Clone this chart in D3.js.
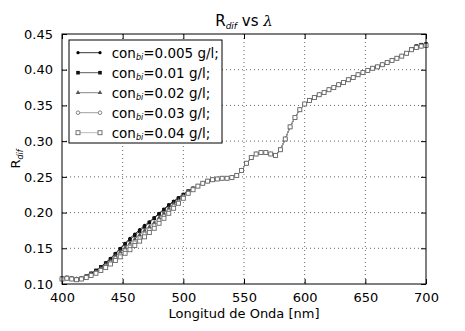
<!DOCTYPE html>
<html>
<head>
<meta charset="utf-8">
<script src="https://cdn.jsdelivr.net/npm/d3@7/dist/d3.min.js"></script>
<style>
  body { margin: 0; background: #fff; }
  svg { font-family: 'DejaVu Sans', sans-serif; }
</style>
</head>
<body>
<svg id="chart" width="465" height="331"></svg>
<script>
// wavelengths, every 4 nm
const lambdas = d3.range(400, 701, 4);

const xTicks = [400, 450, 500, 550, 600, 650, 700];
const yTicks = [0.10, 0.15, 0.20, 0.25, 0.30, 0.35, 0.40, 0.45];

const labels = ['0.005', '0.01', '0.02', '0.03', '0.04'];

// values (400..508 differ, then nearly the same)
const con005 = [0.108, 0.109, 0.108, 0.107, 0.108, 0.111, 0.115, 0.119, 0.124, 0.130,
  0.136, 0.143, 0.150, 0.157, 0.164, 0.170, 0.176, 0.182, 0.187, 0.193,
  0.199, 0.205, 0.211, 0.216, 0.221, 0.226, 0.230, 0.234, 0.237, 0.241,
  0.244, 0.246, 0.247, 0.248, 0.248, 0.249, 0.252, 0.259, 0.269, 0.277,
  0.282, 0.284, 0.284, 0.282, 0.280, 0.288, 0.303, 0.320, 0.333, 0.344,
  0.352, 0.357, 0.361, 0.365, 0.368, 0.372, 0.375, 0.379, 0.382, 0.386,
  0.389, 0.393, 0.396, 0.399, 0.402, 0.404, 0.407, 0.410, 0.413, 0.416,
  0.419, 0.423, 0.429, 0.433, 0.435, 0.436];
const con01 = [0.108, 0.109, 0.108, 0.107, 0.108, 0.111, 0.115, 0.119, 0.124, 0.129,
  0.135, 0.142, 0.149, 0.156, 0.162, 0.168, 0.174, 0.180, 0.186, 0.192,
  0.198, 0.204, 0.210, 0.215, 0.220, 0.225, 0.230, 0.234, 0.237, 0.241,
  0.244, 0.246, 0.247, 0.248, 0.248, 0.249, 0.252, 0.259, 0.269, 0.277,
  0.282, 0.284, 0.284, 0.282, 0.280, 0.288, 0.303, 0.320, 0.333, 0.344,
  0.352, 0.357, 0.361, 0.365, 0.368, 0.372, 0.375, 0.379, 0.382, 0.386,
  0.389, 0.393, 0.396, 0.399, 0.402, 0.404, 0.407, 0.410, 0.413, 0.416,
  0.419, 0.423, 0.429, 0.433, 0.435, 0.436];
const con02 = [0.108, 0.109, 0.108, 0.107, 0.108, 0.110, 0.114, 0.117, 0.122, 0.127,
  0.132, 0.139, 0.145, 0.151, 0.157, 0.163, 0.169, 0.175, 0.180, 0.186,
  0.193, 0.199, 0.206, 0.212, 0.217, 0.223, 0.229, 0.233, 0.237, 0.241,
  0.244, 0.246, 0.247, 0.248, 0.248, 0.249, 0.252, 0.259, 0.269, 0.277,
  0.282, 0.284, 0.284, 0.282, 0.280, 0.288, 0.303, 0.320, 0.333, 0.344,
  0.352, 0.357, 0.361, 0.365, 0.368, 0.372, 0.375, 0.379, 0.382, 0.386,
  0.389, 0.393, 0.396, 0.399, 0.402, 0.404, 0.407, 0.410, 0.413, 0.416,
  0.419, 0.423, 0.428, 0.432, 0.434, 0.435];
const con03 = [0.107, 0.108, 0.107, 0.106, 0.107, 0.110, 0.113, 0.116, 0.120, 0.125,
  0.130, 0.136, 0.141, 0.147, 0.152, 0.158, 0.164, 0.170, 0.176, 0.182,
  0.189, 0.195, 0.202, 0.209, 0.215, 0.222, 0.228, 0.233, 0.237, 0.241,
  0.244, 0.246, 0.247, 0.248, 0.248, 0.249, 0.252, 0.259, 0.269, 0.277,
  0.282, 0.284, 0.284, 0.282, 0.280, 0.288, 0.303, 0.320, 0.333, 0.344,
  0.352, 0.357, 0.361, 0.365, 0.368, 0.372, 0.375, 0.379, 0.382, 0.386,
  0.389, 0.393, 0.396, 0.399, 0.402, 0.404, 0.407, 0.410, 0.413, 0.416,
  0.419, 0.423, 0.428, 0.431, 0.433, 0.434];
const con04 = [0.107, 0.108, 0.107, 0.106, 0.107, 0.109, 0.112, 0.115, 0.119, 0.123,
  0.128, 0.133, 0.138, 0.143, 0.148, 0.154, 0.160, 0.166, 0.172, 0.178,
  0.185, 0.192, 0.199, 0.206, 0.213, 0.220, 0.227, 0.232, 0.237, 0.241,
  0.244, 0.246, 0.247, 0.248, 0.248, 0.249, 0.252, 0.259, 0.269, 0.277,
  0.282, 0.284, 0.284, 0.282, 0.280, 0.288, 0.303, 0.320, 0.333, 0.344,
  0.352, 0.357, 0.361, 0.365, 0.368, 0.372, 0.375, 0.379, 0.382, 0.386,
  0.389, 0.393, 0.396, 0.399, 0.402, 0.404, 0.407, 0.410, 0.413, 0.416,
  0.419, 0.423, 0.428, 0.431, 0.433, 0.434];

const series = [con005, con01, con02, con03, con04];
const lineColors = ['#000', '#333', '#666', '#888', '#aaa'];
const markerTypes = ['dot', 'square', 'triangle', 'circle', 'openSquare'];

const margin = { left: 62, top: 34, right: 39, bottom: 47 };
const width = 465 - margin.left - margin.right;
const height = 331 - margin.top - margin.bottom;

const svg = d3.select('#chart');
const g = svg.append('g').attr('transform', 'translate(' + margin.left + ',' + margin.top + ')');

const x = d3.scaleLinear().domain([400, 700]).range([0, width]);
const y = d3.scaleLinear().domain([0.10, 0.45]).range([height, 0]);

// grid
g.append('g')
    .selectAll('line')
    .data(xTicks.slice(1, -1))
    .enter()
    .append('line')
    .attr('x1', d => x(d)).attr('x2', d => x(d))
    .attr('y1', 0).attr('y2', height)
    .attr('stroke', '#000').attr('stroke-width', 0.6)
    .attr('stroke-dasharray', '1,3');

g.append('g')
    .selectAll('line')
    .data(yTicks.slice(1, -1))
    .enter()
    .append('line')
    .attr('y1', d => y(d)).attr('y2', d => y(d))
    .attr('x1', 0).attr('x2', width)
    .attr('stroke', '#000').attr('stroke-width', 0.6)
    .attr('stroke-dasharray', '1,3');

// axes, ticks inward
const fmtY = d3.format('.2f');
g.append('g')
    .attr('transform', 'translate(0,' + height + ')')
    .call(d3.axisBottom(x).tickValues(xTicks).tickSize(-5).tickPadding(9))
    .call(a => a.select('.domain').remove())
    .style('font-size', '13px');
g.append('g')
    .call(d3.axisTop(x).tickValues(xTicks).tickSize(-5).tickFormat(''))
    .call(a => a.select('.domain').remove());
g.append('g')
    .call(d3.axisLeft(y).tickValues(yTicks).tickSize(-5).tickPadding(9).tickFormat(fmtY))
    .call(a => a.select('.domain').remove())
    .style('font-size', '13px');
g.append('g')
    .attr('transform', 'translate(' + width + ',0)')
    .call(d3.axisRight(y).tickValues(yTicks).tickSize(-5).tickFormat(''))
    .call(a => a.select('.domain').remove());
g.selectAll('.tick text').attr('fill', '#000').style('font-family', 'DejaVu Sans');

// draw a marker
function marker(sel, type, cx, cy) {
    if (type === 'dot') {
        sel.append('circle').attr('cx', cx).attr('cy', cy).attr('r', 1.6).attr('fill', '#000');
    } else if (type === 'square') {
        sel.append('rect').attr('x', cx - 1.8).attr('y', cy - 1.8).attr('width', 3.6).attr('height', 3.6).attr('fill', '#111');
    } else if (type === 'triangle') {
        sel.append('path').attr('d', d3.symbol(d3.symbolTriangle, 9)()).attr('transform', 'translate(' + cx + ',' + cy + ')').attr('fill', '#555');
    } else if (type === 'circle') {
        sel.append('circle').attr('cx', cx).attr('cy', cy).attr('r', 1.8).attr('fill', '#fff').attr('stroke', '#777').attr('stroke-width', 0.9);
    } else {
        sel.append('rect').attr('x', cx - 2).attr('y', cy - 2).attr('width', 4).attr('height', 4).attr('fill', '#fff').attr('stroke', '#666').attr('stroke-width', 0.9);
    }
}

const lineGen = d3.line()
    .x((d, i) => x(lambdas[i]))
    .y(d => y(d));

const plot = g.append('g');
series.forEach((s, k) => {
    plot.append('path')
        .attr('d', lineGen(s))
        .attr('fill', 'none')
        .attr('stroke', lineColors[k])
        .attr('stroke-width', 0.8);
    const mg = plot.append('g');
    s.forEach((v, i) => marker(mg, markerTypes[k], x(lambdas[i]), y(v)));
});

// frame
g.append('rect')
    .attr('width', width).attr('height', height)
    .attr('fill', 'none').attr('stroke', '#000').attr('stroke-width', 1);

// legend
const lg = g.append('g').attr('transform', 'translate(7,6)');
lg.append('rect')
    .attr('width', 153).attr('height', 103)
    .attr('fill', '#fff').attr('stroke', '#000').attr('stroke-width', 1);
labels.forEach((lab, k) => {
    const ly = 12.7 + k * 20;
    lg.append('line')
        .attr('x1', 9).attr('x2', 31).attr('y1', ly).attr('y2', ly)
        .attr('stroke', lineColors[k]).attr('stroke-width', 0.8);
    marker(lg, markerTypes[k], 9, ly);
    marker(lg, markerTypes[k], 31, ly);
    const t = lg.append('text')
        .attr('x', 42.7).attr('y', ly + 5)
        .style('font-size', '13.5px')
        .attr('fill', '#000');
    t.append('tspan').text('con');
    t.append('tspan').text('bi').style('font-size', '8px').style('font-style', 'italic').attr('dy', 2.5);
    t.append('tspan').text('=' + lab + ' g/l;').attr('dy', -2.5);
});

// title
const title = svg.append('text')
    .attr('x', margin.left + width / 2).attr('y', 26)
    .attr('text-anchor', 'middle')
    .style('font-size', '15px');
title.append('tspan').text('R');
title.append('tspan').text('dif').style('font-size', '9px').style('font-style', 'italic').attr('dy', 3);
title.append('tspan').text(' vs ').attr('dy', -3);
title.append('tspan').text('λ').style('font-style', 'italic').style('font-family', 'DejaVu Serif');

// axis labels
svg.append('text')
    .attr('x', margin.left + width / 2).attr('y', 318)
    .attr('text-anchor', 'middle')
    .style('font-size', '13px')
    .text('Longitud de Onda [nm]');

const yl = svg.append('text')
    .attr('transform', 'translate(20,' + (margin.top + height / 2) + ') rotate(-90)')
    .attr('text-anchor', 'middle')
    .style('font-size', '13px');
yl.append('tspan').text('R');
yl.append('tspan').text('dif').style('font-size', '8px').style('font-style', 'italic').attr('dy', 3);
</script>
</body>
</html>
